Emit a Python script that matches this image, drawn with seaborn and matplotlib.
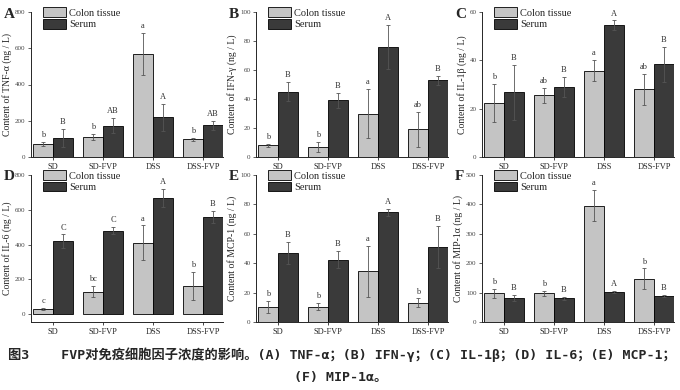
import numpy as np
import pandas as pd
import seaborn as sns
import matplotlib.pyplot as plt

groups = ["SD", "SD-FVP", "DSS", "DSS-FVP"]
tissues = ["Colon tissue", "Serum"]

# A TNF-a
tnf_colon = [70, 110, 570, 97]
tnf_colon_err = [12, 18, 115, 10]
tnf_serum = [103, 172, 220, 175]
tnf_serum_err = [50, 42, 75, 25]
tnf_colon_sig = ["b", "b", "a", "b"]
tnf_serum_sig = ["B", "AB", "A", "AB"]

# B IFN-y
ifn_colon = [8, 7, 30, 19]
ifn_colon_err = [0.8, 3.5, 17, 12]
ifn_serum = [45, 39, 76, 53]
ifn_serum_err = [6.5, 5, 15, 3]
ifn_colon_sig = ["b", "b", "a", "ab"]
ifn_serum_sig = ["B", "B", "A", "B"]

# C IL-1b
il1_colon = [22.3, 25.5, 35.7, 28]
il1_colon_err = [8, 3, 4.3, 6.5]
il1_serum = [26.8, 29, 54.5, 38.3]
il1_serum_err = [11.3, 4, 2, 7.3]
il1_colon_sig = ["b", "ab", "a", "ab"]
il1_serum_sig = ["B", "B", "A", "B"]

# D IL-6
il6_colon = [30, 130, 410, 162]
il6_colon_err = [5, 30, 100, 80]
il6_serum = [418, 480, 668, 558]
il6_serum_err = [40, 20, 50, 35]
il6_colon_sig = ["c", "bc", "a", "b"]
il6_serum_sig = ["C", "C", "A", "B"]

# E MCP-1
mcp_colon = [10, 10.5, 34.5, 13]
mcp_colon_err = [4, 2.3, 17.5, 3]
mcp_serum = [47, 42.5, 74.5, 51]
mcp_serum_err = [7.5, 5.5, 2.3, 14.5]
mcp_colon_sig = ["b", "b", "a", "b"]
mcp_serum_sig = ["B", "B", "A", "B"]

# F MIP-1a
mip_colon = [97, 97, 395, 147]
mip_colon_err = [15, 10, 53, 35]
mip_serum = [82, 80, 101, 88]
mip_serum_err = [10, 5, 3, 3]
mip_colon_sig = ["b", "b", "a", "b"]
mip_serum_sig = ["B", "B", "A", "B"]

panels = [
    ("A", "Content of TNF-α (ng / L)", 800, 200, 0,
     tnf_colon, tnf_colon_err, tnf_serum, tnf_serum_err, tnf_colon_sig, tnf_serum_sig),
    ("B", "Content of IFN-γ (ng / L)", 100, 20, 0,
     ifn_colon, ifn_colon_err, ifn_serum, ifn_serum_err, ifn_colon_sig, ifn_serum_sig),
    ("C", "Content of IL-1β (ng / L)", 60, 20, 0,
     il1_colon, il1_colon_err, il1_serum, il1_serum_err, il1_colon_sig, il1_serum_sig),
    ("D", "Content of IL-6 (ng / L)", 800, 200, -45,
     il6_colon, il6_colon_err, il6_serum, il6_serum_err, il6_colon_sig, il6_serum_sig),
    ("E", "Content of MCP-1 (ng / L)", 100, 20, 0,
     mcp_colon, mcp_colon_err, mcp_serum, mcp_serum_err, mcp_colon_sig, mcp_serum_sig),
    ("F", "Content of MIP-1α (ng / L)", 500, 100, 0,
     mip_colon, mip_colon_err, mip_serum, mip_serum_err, mip_colon_sig, mip_serum_sig),
]

sns.set_style("ticks")
plt.rcParams["font.family"] = ["Liberation Serif", "DejaVu Serif"]

fig = plt.figure(figsize=(6.8, 3.9), dpi=100)
W, H = 680, 390
lefts = [31, 256, 482]
width = 192
rows = [(12, 157), (175, 322)]

for i, (letter, ylabel, ymax, ystep, ymin, c, ce, s, se, csig, ssig) in enumerate(panels):
    r, col = divmod(i, 3)
    top, bot = rows[r]
    ax = fig.add_axes([lefts[col] / W, 1 - bot / H, width / W, (bot - top) / H])

    df = pd.DataFrame({
        "group": groups * 2,
        "tissue": [tissues[0]] * 4 + [tissues[1]] * 4,
        "value": c + s,
    })
    sns.barplot(data=df, x="group", y="value", hue="tissue", order=groups,
                hue_order=tissues, palette=["#c4c4c4", "#3a3a3a"],
                edgecolor="black", linewidth=0.6, width=0.8,
                errorbar=None, ax=ax)

    span = ymax - ymin
    for cont, vals, errs, sigs in zip(ax.containers, [c, s], [ce, se], [csig, ssig]):
        xs = [b.get_x() + b.get_width() / 2 for b in cont]
        ax.errorbar(xs, vals, yerr=errs, fmt="none", ecolor="#555555",
                    elinewidth=0.6, capsize=1.5, capthick=0.6)
        for x, v, e, t in zip(xs, vals, errs, sigs):
            ax.text(x, v + e + span * 0.02, t, ha="center", va="bottom",
                    fontsize=6, color="#333333")

    ax.set_ylim(ymin, ymax)
    ax.set_xlim(-0.44, 3.4)
    ax.set_yticks(np.arange(0, ymax + 1, ystep))
    ax.tick_params(axis="y", labelsize=5, length=2, width=0.6, pad=2, colors="#444444")
    ax.tick_params(axis="x", labelsize=6, length=2, width=0.6, pad=2)
    ax.set_xlabel("")
    ax.set_ylabel(ylabel, fontsize=7, labelpad=2)
    for sp in ["top", "right"]:
        ax.spines[sp].set_visible(False)
    for sp in ["left", "bottom"]:
        ax.spines[sp].set_linewidth(0.7)

    ax.legend(loc="upper left", bbox_to_anchor=(0.04, 1.06), frameon=False,
              fontsize=7.5, handlelength=2.2, handleheight=1.0,
              labelspacing=0.15, borderaxespad=0, handletextpad=0.3)

    fig.text((lefts[col] - 27) / W, 1 - (top + 2) / H, letter, fontsize=11,
             fontweight="bold", va="center", ha="left")

# monospaced latin + CJK, like the journal's caption font
cap_font = ["DejaVu Sans Mono", "Noto Sans CJK SC"]
fig.text(8 / W, 1 - 355 / H,
         "图3    FVP对免疫细胞因子浓度的影响。(A) TNF-α；(B) IFN-γ；(C) IL-1β；(D) IL-6；(E) MCP-1；",
         fontsize=9.5, fontweight="bold", family=cap_font, va="center", ha="left")
fig.text(341 / W, 1 - 378 / H, "(F) MIP-1α。", fontsize=9.5, fontweight="bold",
         family=cap_font, va="center", ha="center")

fig.savefig("out.png", dpi=100)
